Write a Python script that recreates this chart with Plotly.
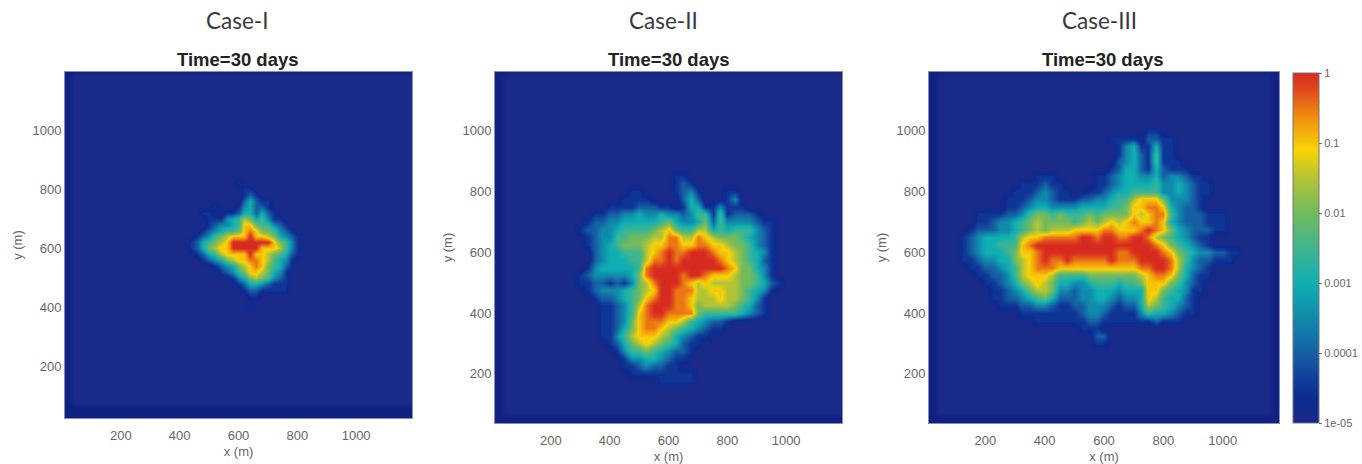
import numpy as np
import plotly.graph_objects as go

# Levels: 0-9,a -> log10(C) = -5 + level/2 (a = 1.0). Rows run top to bottom.
CASE_I_ROWS = [
 "00000000000000000000000000000",
 "00000000000001000000000000000",
 "00000000000000110000000000000",
 "00000000000000121000000000000",
 "00000000000000242110000000000",
 "00000000010001342210000000000",
 "00000001100112442421000000000",
 "00000000111345764531100000000",
 "00000000123345886553210000000",
 "00000001234556898665321000000",
 "000000123567888a8876432100000",
 "00000" "1245678" "aaaaaaa" "86531" "00000",
 "00000" "1246788" "aaaaa" "8887531" "00000",
 "000000" "124578888a88765421" "00000",
 "00000001234678899875431000000",
 "00000000012346789865421000000",
 "00000000001235688764310000000",
 "00000000000013467653210000000",
 "00000000000001244321110000000",
 "00000000000000122111110000000",
 "00000000000000011000000000000",
 "00000000000000000000000000000",
 "00000000000000010000000000000",
 "00000000000000000000000000000",
]
CASE_II_ROWS = [
 "0000000000000000000000000000000",
 "0000000000000001100000000000000",
 "0000000000000001210000000000000",
 "0000000001100001231000110000000",
 "0000000011110000242000130000000",
 "0000001111222110144113111000000",
 "0000112233433433235515122210000",
 "0001223344444564334625333321100",
 "0012233455556786557745455532100",
 "0001233556667799779876665432100",
 "0001234566678899889988766532100",
 "00002344555789a99aaa98876543100",
 "00002344455799a9aaaaa9876542100",
 "000134444459aaaaaaaaaa986643100",
 "001233333469aaaa9aa988876653100",
 "00112212136" "79aaa9" "8787777" "66542100",
 "00012333456" "78aa999" "7788" "7765431" "00",
 "00001223456" "89aa998" "7778" "77653100" "0",
 "0000011235" "79aaa998" "67777" "6542100" "0",
 "0000011235" "89aa9999" "655555" "4321000",
 "000001123689998875432210000000" "0",
 "00000112468998765432110000000" "00",
 "00000113578887643211000000000" "00",
 "0000001246787654211000000000000",
 "0000000135565432210000000000000",
 "0000000013344321100000000000000",
 "0000000011232211000000000000000",
 "0000000001111111110000000000000",
 "0000000000000111110000000000000",
 "0000000000000000000000000000000",
]
CASE_III_ROWS = [
 "00000000000000000000000000000000000000000",
 "00000000000000000000000000110000000000000",
 "00000000000000000000011110221100000000000",
 "00000000000000000000001341141100000000000",
 "00000000000000000000001342151100000000000",
 "00000000000000000000002342151110000000000",
 "00000000000000000000012442142111000000000",
 "00000000000111000001123443342332110000000",
 "00000000011121100001123444453343211000000",
 "00000000111232110011234455553343211000000",
 "00000001112332111223345578886333210000000",
 "00000001123443333444455688998432210000000",
 "000" "1111223566565556566668789953222111" "0000",
 "000" "1123345676666567678789889843222111" "0000",
 "00122233456767778888998889a98643222110000",
 "0123" "4444" "5" "7" "88" "99999" "aa" "9" "aa" "99" "aa" "9" "765432" "11" "000000",
 "0123" "44" "555" "8" "9" "aaaaaaaaaaaaaaaa" "98654321" "000000",
 "0123" "444" "5" "6" "88" "9" "aaaaaaaaaa" "99" "aaaa" "9" "8" "6" "5" "4" "33" "22" "11" "00",
 "0" "11" "2" "33" "44" "6" "7" "8" "9" "a" "99" "a" "99999" "a" "999" "aaaa" "9" "7" "5" "3" "22" "111" "000",
 "00" "11" "22" "3" "4" "5" "7" "8" "999" "88888888888" "99" "aa" "9" "7" "4" "3" "2" "1" "000000",
 "000" "11" "22" "3" "5" "7" "888" "7" "5555" "6666666" "7" "8" "99" "8" "6" "4" "2" "11" "000000",
 "00001123467876443345554556888653210000000",
 "00000112346776332334443444886543110000000",
 "00000112234564222334432334875442100000000",
 "00000011122332112233321224765432100000000",
 "00000000011111111233211113544321100000000",
 "00000000000111111122111111121110000000000",
 "00000000000000000111000000000000000000000",
 "00000000000000000002200000000000000000000",
 "00000000000000000001100000000000000000000",
 "00000000000000000000000000000000000000000",
 "00000000000000000000000000000000000000000",
]

CASE_TITLES = ["Case-I", "Case-II", "Case-III"]
PANEL_TITLE = "Time=30 days"
X_TICKS = [200, 400, 600, 800, 1000]
Y_TICKS = [200, 400, 600, 800, 1000]
CBAR_VALUES = [-5, -4, -3, -2, -1, 0]
CBAR_LABELS = ["1e-05", "0.0001", "0.001", "0.01", "0.1", "1"]

W, H = 1362, 464
PANELS = [
    dict(rows=CASE_I_ROWS, step=20, x0=340, top=850, px=(65, 412), py=(72, 418), yr=(26, 1196),
         cx=237, tx=238, right=False),
    dict(rows=CASE_II_ROWS, step=25, x0=250, top=875, px=(495, 842), py=(72, 423), yr=(38, 1194),
         cx=663.5, tx=669, right=False),
    dict(rows=CASE_III_ROWS, step=25, x0=100, top=1025, px=(929, 1279), py=(72, 423), yr=(38, 1194),
         cx=1099, tx=1103, right=True),
]
BG = -4.95
EDGE = -5.0


def grid(p):
    step = p["step"]
    xs = np.arange(0, 1200 + step, step)
    ys = np.arange(0, 1200 + step, step)
    z = np.full((len(ys), len(xs)), BG)
    z[:, xs < 40] = EDGE
    z[ys < 70, :] = EDGE
    z[ys > 1185, :] = EDGE
    if p["right"]:
        z[:, xs > 1150] = EDGE
    for i, row in enumerate(p["rows"]):
        iy = int((p["top"] - i * step) / step)
        for j, ch in enumerate(row):
            lv = int(ch, 16)
            if lv:
                z[iy, int(p["x0"] / step) + j] = -5 + lv / 2
    return xs, ys, z


COLORSCALE = [
    [0.0, "#0f2283"], [0.01, "#192a89"], [0.07, "#0c2b92"], [0.13, "#123f99"],
    [0.2, "#1460a3"], [0.3, "#108bab"], [0.4, "#10afb2"], [0.5, "#3fb58f"],
    [0.6, "#72ba5c"], [0.7, "#b4c335"], [0.78, "#f8d404"], [0.87, "#f0910f"],
    [0.95, "#e04a1c"], [1.0, "#d82b20"],
]
GREY = "#666666"
fig = go.Figure()
for k, p in enumerate(PANELS):
    xs, ys, z = grid(p)
    sfx = "" if k == 0 else str(k + 1)
    fig.add_trace(go.Heatmap(x=xs, y=ys, z=z, zsmooth="best", coloraxis="coloraxis",
                             xaxis="x" + sfx, yaxis="y" + sfx, hoverinfo="skip"))
    common = dict(ticks="", showgrid=False, zeroline=False, showline=True, mirror=True,
                  linecolor="#8a8fb0", linewidth=1, tickfont=dict(family="Liberation Sans", size=13, color=GREY))
    fig.update_layout({
        "xaxis" + sfx: dict(common, domain=[p["px"][0] / W, p["px"][1] / W], range=[10, 1190],
                            tickvals=X_TICKS, anchor="y" + sfx, ticklabelstandoff=5,
                            title=dict(text="x (m)", font=dict(family="Liberation Sans", size=13, color=GREY), standoff=5)),
        "yaxis" + sfx: dict(common, domain=[1 - p["py"][1] / H, 1 - p["py"][0] / H], range=list(p["yr"]),
                            tickvals=Y_TICKS, anchor="x" + sfx,
                            title=dict(text="y (m)", font=dict(family="Liberation Sans", size=13, color=GREY), standoff=6)),
    })
    fig.add_annotation(x=p["cx"] / W, y=1 - 21 / H, xref="paper", yref="paper", text=CASE_TITLES[k], showarrow=False,
                       font=dict(family="Lato", size=22.5, color="#3a3a3a"), xanchor="center", yanchor="middle")
    fig.add_annotation(x=p["tx"] / W, y=1 - 59 / H, xref="paper", yref="paper", text="<b>%s</b>" % PANEL_TITLE, showarrow=False,
                       font=dict(family="Liberation Sans", size=18.5, color="#222222"), xanchor="center", yanchor="middle")

fig.update_layout(
    width=W, height=H, margin=dict(l=0, r=0, t=0, b=0), paper_bgcolor="white", plot_bgcolor="white",
    showlegend=False,
    coloraxis=dict(cmin=-5, cmax=0, colorscale=COLORSCALE, colorbar=dict(
        x=1293 / W, xanchor="left", xpad=0, y=1 - 423 / H, yanchor="bottom", ypad=0,
        len=350 / H, lenmode="fraction", thickness=26, thicknessmode="pixels",
        tickvals=CBAR_VALUES, ticktext=CBAR_LABELS, ticks="outside", ticklen=3, tickcolor="#777777",
        outlinecolor="#777777", outlinewidth=1,
        tickfont=dict(family="Liberation Sans", size=11, color=GREY))),
)
fig.write_html("out.html", config={"displayModeBar": False}, post_script="document.body.style.margin='0';")
